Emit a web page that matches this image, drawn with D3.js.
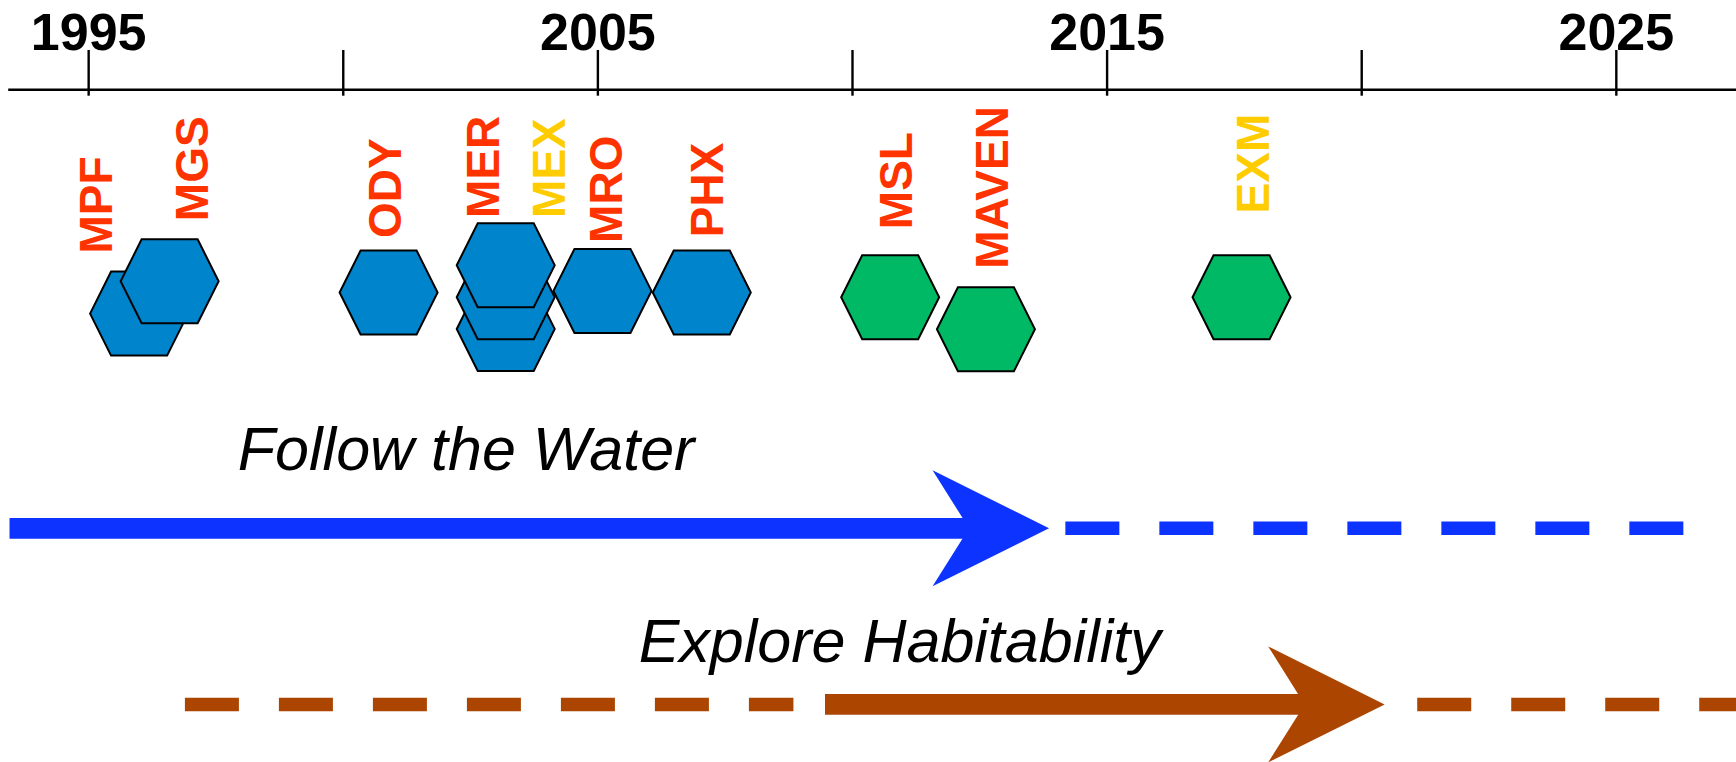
<!DOCTYPE html>
<html>
<head>
<meta charset="utf-8">
<script src="https://cdn.jsdelivr.net/npm/d3@7"></script>
<style>
  html, body { margin: 0; padding: 0; background: #fff; }
  svg { display: block; font-family: "Liberation Sans", Arial, Helvetica, sans-serif; }
</style>
</head>
<body>
<svg id="chart" width="1736" height="762"></svg>
<script>
// ---------------- DATA ----------------
const tickYears = [1995, 2000, 2005, 2010, 2015, 2020, 2025];
const tickLabels = ["1995", "", "2005", "", "2015", "", "2025"];

// hexagons (mission markers) in drawing order
const hexMission = ["MPF", "MGS", "ODY", "MER-B", "MER-A", "MEX", "MRO", "PHX", "MSL", "MAVEN", "EXM"];
const hexYear    = [1996.0, 1996.6, 2000.9, 2003.2, 2003.2, 2003.2, 2005.1, 2007.05, 2010.75, 2012.63, 2017.65];
const hexLane    = [0.51, -0.5, -0.15, 0.99, 0, -1, -0.2, -0.15, 0, 1, 0];
const hexEra     = ["water", "water", "water", "water", "water", "water", "water", "water", "habit", "habit", "habit"];

// mission labels
const labelName   = ["MPF", "MGS", "ODY", "MER", "MEX", "MRO", "PHX", "MSL", "MAVEN", "EXM"];
const labelYear   = [1995.15, 1997.03, 2000.81, 2002.74, 2004.04, 2005.15, 2007.15, 2010.86, 2012.73, 2017.87];
const labelLane   = [-1.37, -2.38, -1.85, -2.48, -2.48, -1.70, -1.88, -2.13, -0.89, -2.62];
const labelAgency = ["NASA", "NASA", "NASA", "NASA", "ESA", "NASA", "NASA", "NASA", "NASA", "ESA"];

// themes (arrows)
const themeName        = ["Follow the Water", "Explore Habitability"];
const themeTextYear    = [1997.94, 2005.81];
const themePastStart   = [null, 1996.9];
const themePastEnd     = [null, 2008.85];
const themeSolidStart  = [1993.456, 2009.47];
const themeTip         = [2013.87, 2020.46];
const themeFutureStart = [2014.19, 2021.1];
const themeFutureEnd   = [2026.33, 2028.0];

// ---------------- STYLE ----------------
const hexFill = { water: "#0084cc", habit: "#00b964" };
const agencyColor = { NASA: "#ff3300", ESA: "#ffcc00" };
const themeColor = ["#0c33ff", "#ab4500"];

const svg = d3.select("#chart");

const x = d3.scaleLinear().domain([1993.42, 2027.36]).range([7.7, 1736]);
const lane = d3.scaleLinear().domain([0, 1]).range([297.3, 329.3]);
const themeY = d3.scaleOrdinal().domain(themeName).range([528.3, 704.4]);
const themeTextY = d3.scaleOrdinal().domain(themeName).range([470, 661.7]);

// ---------------- AXIS ----------------
const axisY = 89.3;
const axis = d3.axisTop(x)
  .tickValues(tickYears)
  .tickSize(39.3)
  .tickSizeOuter(0)
  .tickFormat((d, i) => tickLabels[i]);

const gAxis = svg.append("g").attr("transform", `translate(0,${axisY})`).call(axis);
gAxis.select(".domain").attr("stroke", "#000").attr("stroke-width", 2.6);
gAxis.selectAll(".tick line").attr("stroke", "#000").attr("stroke-width", 2.4)
  .attr("y1", 6.4).attr("y2", -39.3);
gAxis.selectAll(".tick text")
  .attr("y", -39.3).attr("dy", 0)
  .attr("fill", "#000")
  .style("font-size", "52px")
  .style("font-weight", "bold")
  .style("font-family", '"Liberation Sans", Arial, sans-serif');

// ---------------- HEXAGONS ----------------
const hw = 49, hh = 42, ht = 28;
const hexPts = [[-hw, 0], [-ht, -hh], [ht, -hh], [hw, 0], [ht, hh], [-ht, hh]];
const hexPath = d3.line()(hexPts) + "Z";

svg.append("g").selectAll("path")
  .data(hexMission.map((m, i) => ({ m, year: hexYear[i], lane: hexLane[i], era: hexEra[i] })))
  .join("path")
  .attr("d", hexPath)
  .attr("transform", d => `translate(${x(d.year)},${lane(d.lane)})`)
  .attr("fill", d => hexFill[d.era])
  .attr("stroke", "#000")
  .attr("stroke-width", 2)
  .attr("stroke-linejoin", "miter");

// ---------------- LABELS ----------------
svg.append("g").selectAll("text")
  .data(labelName.map((n, i) => ({ n, year: labelYear[i], lane: labelLane[i], ag: labelAgency[i] })))
  .join("text")
  .attr("transform", d => `translate(${x(d.year)},${lane(d.lane)}) rotate(-90)`)
  .attr("dy", "0.36em")
  .attr("text-anchor", "start")
  .attr("fill", d => agencyColor[d.ag])
  .style("font-size", "46px")
  .style("font-weight", "bold")
  .text(d => d.n);

// ---------------- THEME ARROWS ----------------
const headBack = 116.5, headHalf = 58, notch = 80;
const themes = themeName.map((n, i) => ({
  n, i,
  textYear: themeTextYear[i],
  pastStart: themePastStart[i], pastEnd: themePastEnd[i],
  solidStart: themeSolidStart[i], tip: themeTip[i],
  futStart: themeFutureStart[i], futEnd: themeFutureEnd[i]
}));

const gT = svg.append("g");
themes.forEach(t => {
  const y = themeY(t.n), col = themeColor[t.i];
  const tipX = x(t.tip);
  // past dashed
  if (t.pastStart !== null) {
    gT.append("line")
      .attr("x1", x(t.pastStart)).attr("x2", x(t.pastEnd))
      .attr("y1", y).attr("y2", y)
      .attr("stroke", col).attr("stroke-width", 13.5)
      .attr("stroke-dasharray", "54,40");
  }
  // solid bar
  gT.append("line")
    .attr("x1", x(t.solidStart)).attr("x2", tipX - notch + 2)
    .attr("y1", y).attr("y2", y)
    .attr("stroke", col).attr("stroke-width", 20.7);
  // arrow head
  gT.append("path")
    .attr("d", d3.line()([[tipX, y], [tipX - headBack, y - headHalf], [tipX - notch, y], [tipX - headBack, y + headHalf]]) + "Z")
    .attr("fill", col);
  // future dashed
  gT.append("line")
    .attr("x1", x(t.futStart)).attr("x2", x(t.futEnd))
    .attr("y1", y).attr("y2", y)
    .attr("stroke", col).attr("stroke-width", 13.5)
    .attr("stroke-dasharray", "54,40");
  // title
  gT.append("text")
    .attr("x", x(t.textYear)).attr("y", themeTextY(t.n))
    .attr("fill", "#000")
    .style("font-size", "61px")
    .style("font-style", "italic")
    .text(t.n);
});
</script>
</body>
</html>
